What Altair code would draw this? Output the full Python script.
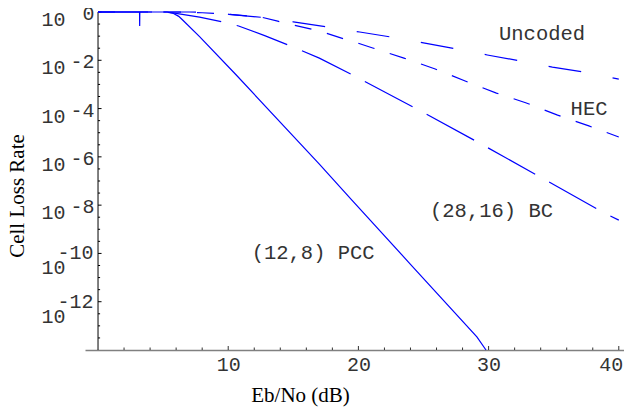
import altair as alt
import pandas as pd

# ---- curve data (Eb/No in dB, cell loss rate) ----
x_uncoded = [0, 7, 8.8, 10.05, 12.57, 15.0, 17.6, 20.1, 22.55, 25.0, 27.55, 29.9, 32.5, 34.9, 37.5, 40.0]
y_uncoded = [1, 1, 0.933, 0.804, 0.603, 0.389, 0.240, 0.148, 0.0912, 0.0525, 0.0295, 0.0166,
             9.33e-3, 5.25e-3, 3.16e-3, 1.66e-3]

x_hec = [0, 6, 8, 10, 12.6, 13.8, 15.0, 16.3, 17.5, 18.7, 19.9, 21.1, 23.5, 25.9, 28.2, 30.6,
         32.9, 35.3, 37.7, 40.0]
y_hec = [1, 1, 0.933, 0.813, 0.603, 0.417, 0.288, 0.200, 0.135, 0.0832, 0.0525, 0.0324, 0.0123,
         4.37e-3, 1.38e-3, 4.37e-4, 1.70e-4, 5.37e-5, 1.91e-5, 6.61e-6]

x_bc = [0, 5.0, 5.75, 7.8, 9.58, 10.8, 12.8, 14.8, 17.0, 19.7, 24.5, 29.3, 34.1, 38.9, 40.0]
y_bc = [1, 1, 0.912, 0.617, 0.389, 0.263, 0.105, 0.0389, 0.0123, 2.24e-3, 9.55e-5, 3.72e-6,
        1.32e-7, 4.68e-9, 2.40e-9]

x_pcc = [0, 3.19, 3.2, 3.21, 5.3, 5.8, 6.2, 6.5, 7.8, 10.6, 17.0, 19.5, 24.0, 29.1, 29.8]
y_pcc = [1, 1, 0.263, 1, 1, 0.871, 0.66, 0.468, 0.0955, 2.51e-3, 5.01e-7, 1.62e-8, 3.55e-11,
         3.47e-14, 1.0e-14]

# ---- annotations ----
ann_text = ["Uncoded", "HEC", "(28,16) BC", "(12,8) PCC"]
ann_x = [30.8, 36.3, 25.5, 11.8]
ann_y = [0.123, 9.55e-5, 5.75e-9, 1.0e-10]

# ---- axis ticks / labels ----
x_label_values = [10, 20, 30, 40]
x_minor_ticks = [2, 4, 6, 8, 12, 14, 16, 18, 22, 24, 26, 28, 32, 34, 36, 38]
y_major_exp = [0, -2, -4, -6, -8, -10, -12]
y_minor_exp = [-0.5, -1, -1.5, -2.5, -3, -3.5, -4.5, -5, -5.5, -6.5, -7, -7.5, -8.5, -9, -9.5,
               -10.5, -11, -11.5, -12.5, -13, -13.5]
y_label_exp_a = [0, -2, -4, -6, -8]
y_label_txt_a = ["0", "-2", "-4", "-6", "-8"]
y_label_exp_b = [-10, -12]
y_label_txt_b = ["-10", "-12"]

rows = []
for name, xs, ys in [("Uncoded", x_uncoded, y_uncoded), ("HEC", x_hec, y_hec),
                     ("BC", x_bc, y_bc), ("PCC", x_pcc, y_pcc)]:
    for i, (xv, yv) in enumerate(zip(xs, ys)):
        rows.append({"series": name, "x": xv, "y": yv, "i": i})
df = pd.DataFrame(rows)

BLUE = "#0000ff"
MONO = "Liberation Mono"
SERIF = "Liberation Serif"
TXT = "#333"

xscale = alt.Scale(domain=[-1, 40.4], nice=False, zero=False)
yscale = alt.Scale(type="log", domain=[1e-14, 1], nice=False)

xaxis = alt.Axis(values=x_label_values[:-1], format="d", labelFont=MONO, labelFontSize=20,
                 labelColor=TXT, labelPadding=4, ticks=False, domainColor="#808080",
                 domainWidth=1.6, grid=False, title="Eb/No (dB)", titleFont=SERIF,
                 titleFontSize=21, titleFontWeight="normal", titleColor="black",
                 titleX=215, titleY=45, titleBaseline="middle", titleAlign="center")
yaxis = alt.Axis(domain=False, ticks=False, labels=False, grid=False, title="Cell Loss Rate",
                 titleFont=SERIF, titleFontSize=21, titleFontWeight="normal",
                 titleColor="black", titleAngle=270, titleX=-68, titleY=183.5,
                 titleAlign="center", titleBaseline="middle")


def X(f):
    return alt.X(f, type="quantitative", scale=xscale, axis=xaxis)


def Y(f):
    return alt.Y(f, type="quantitative", scale=yscale, axis=yaxis)


def curve(name, dash=None, offset=0):
    mk = {"color": BLUE, "strokeWidth": 1.2}
    if dash:
        mk["strokeDash"] = dash
        mk["strokeDashOffset"] = offset
    return (alt.Chart(df).transform_filter(alt.datum.series == name)
            .mark_line(**mk).encode(x=X("x"), y=Y("y"), order="i:Q"))


# y axis line at x = 0
yline = (alt.Chart(pd.DataFrame({"k": [0]}))
         .transform_calculate(x0="0", y0="1", y1="1e-14")
         .mark_rule(color="black", strokeWidth=1)
         .encode(x=X("x0"), y=Y("y0"), y2="y1:Q"))

ymaj = (alt.Chart(pd.DataFrame({"e": y_major_exp}))
        .transform_calculate(v="pow(10, datum.e)", x0="0", x1="0.27")
        .mark_rule(color="black", strokeWidth=1)
        .encode(x=X("x0"), x2="x1:Q", y=Y("v")))
ymin = (alt.Chart(pd.DataFrame({"e": y_minor_exp}))
        .transform_calculate(v="pow(10, datum.e)", x0="0", x1="0.16")
        .mark_rule(color="black", strokeWidth=1)
        .encode(x=X("x0"), x2="x1:Q", y=Y("v")))

xmaj = (alt.Chart(pd.DataFrame({"t": x_label_values}))
        .mark_rule(color="#333", strokeWidth=1)
        .encode(x=X("t"), y=alt.value(338), y2=alt.value(334)))
xmin = (alt.Chart(pd.DataFrame({"t": x_minor_ticks}))
        .mark_rule(color="#333", strokeWidth=1)
        .encode(x=X("t"), y=alt.value(338), y2=alt.value(335.5)))

# last x label, kept inside the page edge
xlast = (alt.Chart(pd.DataFrame({"t": x_label_values[-1:]}))
         .transform_calculate(s="format(datum.t, 'd')")
         .mark_text(align="right", baseline="middle", font=MONO, fontSize=20, color=TXT, dx=4.5)
         .encode(x=X("t"), y=alt.value(352.5), text="s:N"))

lab_a = alt.Chart(pd.DataFrame({"e": y_label_exp_a, "s": y_label_txt_a})).transform_calculate(
    v="pow(10, datum.e)", b="'10'")
lab_a_base = lab_a.mark_text(align="right", baseline="middle", font=MONO, fontSize=20,
                             color=TXT, dy=8).encode(x=alt.value(-19.5), y=Y("v"), text="b:N")
lab_a_exp = lab_a.mark_text(align="right", baseline="middle", font=MONO, fontSize=20,
                            color=TXT, dy=2).encode(x=alt.value(9.5), y=Y("v"), text="s:N")

lab_b = alt.Chart(pd.DataFrame({"e": y_label_exp_b, "s": y_label_txt_b})).transform_calculate(
    v="pow(10, datum.e)", b="'10'")
lab_b_base = lab_b.mark_text(align="right", baseline="middle", font=MONO, fontSize=20,
                             color=TXT, dy=15).encode(x=alt.value(-19.5), y=Y("v"), text="b:N")
lab_b_exp = lab_b.mark_text(align="right", baseline="middle", font=MONO, fontSize=20,
                            color=TXT, dy=0).encode(x=alt.value(8.5), y=Y("v"), text="s:N")

ann = (alt.Chart(pd.DataFrame({"x": ann_x, "y": ann_y, "t": ann_text}))
       .mark_text(align="left", baseline="middle", font=MONO, fontSize=20.5, color=TXT)
       .encode(x=X("x"), y=Y("y"), text="t:N"))

chart = alt.layer(
    yline, ymaj, ymin, xmaj, xmin,
    curve("Uncoded", [33, 32]),
    curve("HEC", [17, 16]),
    curve("BC", [54, 16]),
    curve("PCC"),
    xlast, lab_a_base, lab_a_exp, lab_b_base, lab_b_exp, ann,
).properties(
    width=539, height=338,
    autosize=alt.AutoSizeParams(type="none"),
    padding={"left": 77, "top": 4, "right": 0, "bottom": 58},
    background="white",
).configure_view(stroke=None)

chart.save("out.html", embed_options={"renderer": "svg", "actions": False})
